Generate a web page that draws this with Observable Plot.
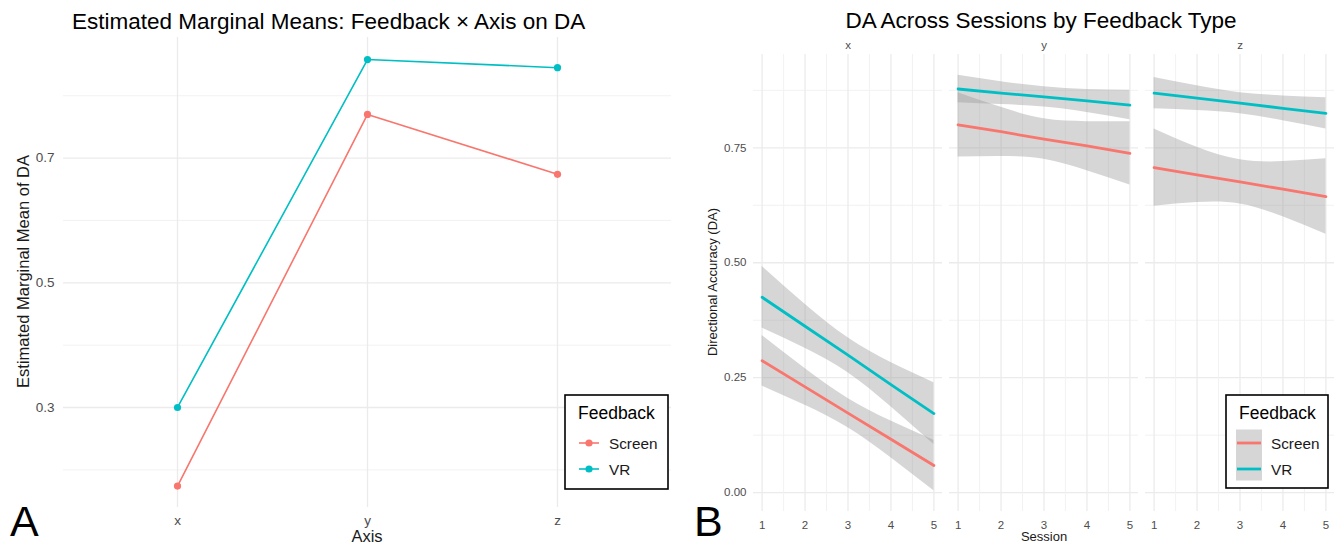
<!DOCTYPE html>
<html><head><meta charset="utf-8">
<script src="https://cdn.jsdelivr.net/npm/d3@7"></script>
<script src="https://cdn.jsdelivr.net/npm/@observablehq/plot@0.6"></script>
<style>
body{margin:0;background:#fff;font-family:"Liberation Sans",Arial,Helvetica,sans-serif;}
#wrap{position:relative;width:1338px;height:545px;overflow:hidden;background:#fff;}
#wrap > svg, #wrap > figure{position:absolute;top:0;margin:0;}
</style></head><body><div id="wrap"></div>
<script>
// ---------- Panel A data: estimated marginal means ----------
const emmAxes = ["x", "y", "z"];
const emmScreen = [0.174, 0.770, 0.674];
const emmVR = [0.300, 0.858, 0.845];
const leftYTicks = [0.3, 0.5, 0.7];
const leftYMinor = [0.2, 0.4, 0.6, 0.8];

// ---------- Panel B data: fitted lines and 95% bands per session ----------
const feedbackTypes = ["Screen", "VR"];
const feedbackColors = ["#F8766D", "#00BFC4"];
const facetAxes = ["x", "y", "z"];
const sessions = [1, 2, 3, 4, 5];
const sessionMinor = [1.5, 2.5, 3.5, 4.5];
const rightYTicks = [0, 0.25, 0.5, 0.75];
const rightYMinor = [0.125, 0.375, 0.625, 0.875];

const screenFitX = [0.287, 0.230, 0.173, 0.116, 0.059];
const screenLoX  = [0.232, 0.190, 0.141, 0.076, 0.004];
const screenHiX  = [0.342, 0.270, 0.205, 0.156, 0.114];
const vrFitX     = [0.425, 0.362, 0.299, 0.235, 0.172];
const vrLoX      = [0.358, 0.314, 0.261, 0.187, 0.105];
const vrHiX      = [0.492, 0.410, 0.337, 0.283, 0.239];

const screenFitY = [0.800, 0.785, 0.769, 0.754, 0.738];
const screenLoY  = [0.730, 0.731, 0.725, 0.700, 0.669];
const screenHiY  = [0.870, 0.838, 0.813, 0.807, 0.807];
const vrFitY     = [0.878, 0.869, 0.861, 0.852, 0.843];
const vrLoY      = [0.848, 0.844, 0.839, 0.827, 0.811];
const vrHiY      = [0.908, 0.894, 0.883, 0.877, 0.875];

const screenFitZ = [0.707, 0.691, 0.676, 0.660, 0.644];
const screenLoZ  = [0.623, 0.631, 0.628, 0.600, 0.562];
const screenHiZ  = [0.791, 0.751, 0.724, 0.720, 0.726];
const vrFitZ     = [0.869, 0.858, 0.847, 0.836, 0.825];
const vrLoZ      = [0.835, 0.831, 0.824, 0.809, 0.791];
const vrHiZ      = [0.903, 0.885, 0.870, 0.863, 0.859];

// ---------- build tables ----------
const emm = emmAxes.flatMap((a, i) => [
  {axis: a, feedback: "Screen", mean: emmScreen[i]},
  {axis: a, feedback: "VR", mean: emmVR[i]}
]);
const series = [
  {axis: "x", feedback: "Screen", fit: screenFitX, lo: screenLoX, hi: screenHiX},
  {axis: "x", feedback: "VR", fit: vrFitX, lo: vrLoX, hi: vrHiX},
  {axis: "y", feedback: "Screen", fit: screenFitY, lo: screenLoY, hi: screenHiY},
  {axis: "y", feedback: "VR", fit: vrFitY, lo: vrLoY, hi: vrHiY},
  {axis: "z", feedback: "Screen", fit: screenFitZ, lo: screenLoZ, hi: screenHiZ},
  {axis: "z", feedback: "VR", fit: vrFitZ, lo: vrLoZ, hi: vrHiZ}
];
const bands = series.flatMap(s => sessions.map((t, i) => ({
  axis: s.axis, feedback: s.feedback, key: s.axis + s.feedback, session: t,
  fit: s.fit[i], lo: s.lo[i], hi: s.hi[i]
})));

const FONT = '"Liberation Sans", Arial, Helvetica, sans-serif';
const wrap = document.getElementById("wrap");

// ---------- Panel A ----------
const left = Plot.plot({
  width: 680, height: 545,
  marginLeft: 63, marginRight: 9, marginTop: 37, marginBottom: 38,
  style: {fontFamily: FONT, fontSize: "13.5px", color: "#4d4d4d", background: "transparent", overflow: "visible"},
  x: {type: "point", domain: emmAxes, padding: 0.6, tickSize: 0, tickPadding: 8, label: null},
  y: {domain: [0.1396, 0.8934], ticks: leftYTicks, tickFormat: ".1f", tickSize: 0, tickPadding: 9, label: null},
  color: {domain: feedbackTypes, range: feedbackColors},
  marks: [
    Plot.ruleY(leftYMinor, {stroke: "#f0f0f0", strokeWidth: 0.9}),
    Plot.ruleY(leftYTicks, {stroke: "#ebebeb", strokeWidth: 1.3}),
    Plot.ruleX(emmAxes, {stroke: "#ebebeb", strokeWidth: 1.3}),
    Plot.line(emm, {x: "axis", y: "mean", stroke: "feedback", strokeWidth: 1.6}),
    Plot.dot(emm, {x: "axis", y: "mean", fill: "feedback", r: 3.6})
  ]
});
left.style.left = "0px";
wrap.appendChild(left);

// ---------- Panel B ----------
const right = Plot.plot({
  width: 658, height: 545,
  marginLeft: 72, marginRight: 2, marginTop: 54, marginBottom: 34,
  style: {fontFamily: FONT, fontSize: "11.5px", color: "#4d4d4d", background: "transparent", overflow: "visible"},
  facet: {data: bands, x: "axis"},
  fx: {domain: facetAxes, paddingInner: 0.034, paddingOuter: 0, axis: "top", tickSize: 0, tickPadding: 6, label: null},
  x: {domain: [0.8, 5.2], ticks: sessions, tickFormat: d => String(d), tickSize: 0, tickPadding: 9, label: null},
  y: {domain: [-0.041, 0.953], ticks: rightYTicks, tickFormat: ".2f", tickSize: 0, tickPadding: 7, label: null},
  color: {domain: feedbackTypes, range: feedbackColors},
  marks: [
    Plot.ruleY(rightYMinor, {stroke: "#f0f0f0", strokeWidth: 0.9}),
    Plot.ruleY(rightYTicks, {stroke: "#ebebeb", strokeWidth: 1.3}),
    Plot.ruleX(sessionMinor, {stroke: "#f0f0f0", strokeWidth: 0.9}),
    Plot.ruleX(sessions, {stroke: "#ebebeb", strokeWidth: 1.3}),
    Plot.areaY(bands, {x: "session", y1: "lo", y2: "hi", z: "key", fill: "#999999", fillOpacity: 0.4, curve: "natural"}),
    Plot.lineY(bands, {x: "session", y: "fit", z: "key", stroke: "feedback", strokeWidth: 2.8})
  ]
});
right.style.left = "680px";
wrap.appendChild(right);

// ---------- titles, labels, legends (overlay) ----------
const ov = d3.select(wrap).append("svg")
  .attr("width", 1338).attr("height", 545)
  .style("position", "absolute").style("left", "0px").style("top", "0px")
  .style("pointer-events", "none")
  .attr("font-family", FONT);

function txt(x, y, s, size, opts = {}) {
  const t = ov.append("text").attr("x", x).attr("y", y).text(s)
    .attr("font-size", size).attr("fill", opts.fill || "#000")
    .attr("text-anchor", opts.anchor || "start");
  if (opts.rotate) t.attr("transform", `rotate(-90 ${x} ${y})`);
  return t;
}

// Panel A text
txt(72, 28.5, "Estimated Marginal Means: Feedback × Axis on DA", 22.5);
txt(29.3, 271.5, "Estimated Marginal Mean of DA", 16.5, {anchor: "middle", rotate: true, fill: "#1a1a1a"});
txt(367, 542, "Axis", 16.5, {anchor: "middle", fill: "#1a1a1a"});
txt(10, 535.5, "A", 43);

// Panel B text
txt(1041, 28, "DA Across Sessions by Feedback Type", 22.5, {anchor: "middle"});
txt(717, 282, "Directional Accuracy (DA)", 13, {anchor: "middle", rotate: true, fill: "#1a1a1a"});
txt(1044, 541, "Session", 13, {anchor: "middle", fill: "#1a1a1a"});
txt(694, 535.5, "B", 43);

// Legends
function legend(x0, y0, w, h, withBand, keyX, keyW) {
  ov.append("rect").attr("x", x0).attr("y", y0).attr("width", w).attr("height", h)
    .attr("fill", "#fff").attr("stroke", "#000").attr("stroke-width", 1.6);
  txt(x0 + 13, 419, "Feedback", 17.5);
  if (withBand) {
    ov.append("rect").attr("x", keyX).attr("y", 429.5).attr("width", keyW).attr("height", 51)
      .attr("fill", "#999999").attr("fill-opacity", 0.4);
  }
  const ys = [443, 469];
  feedbackTypes.forEach((f, i) => {
    ov.append("line").attr("x1", keyX + 1).attr("x2", keyX + keyW - 1)
      .attr("y1", ys[i]).attr("y2", ys[i])
      .attr("stroke", feedbackColors[i]).attr("stroke-width", withBand ? 2.8 : 1.6);
    if (!withBand) {
      ov.append("circle").attr("cx", keyX + keyW / 2).attr("cy", ys[i]).attr("r", 3.6).attr("fill", feedbackColors[i]);
    }
    txt(keyX + keyW + 9, ys[i] + 5.5, f, 15.3, {fill: "#1a1a1a"});
  });
}
legend(565, 395, 103, 94, false, 578, 22);
legend(1226, 395, 102, 93, true, 1236, 26);
</script></body></html>
